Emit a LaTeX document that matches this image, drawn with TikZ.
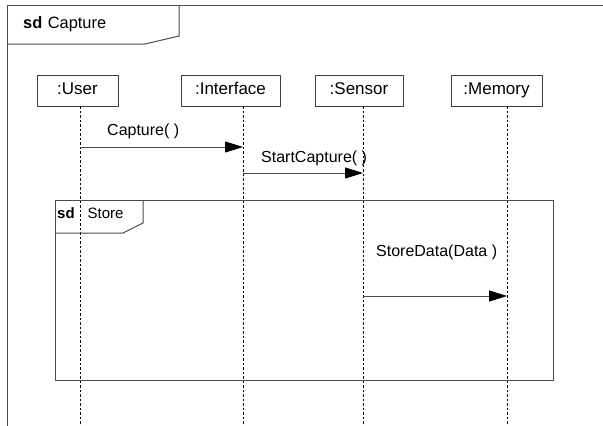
\documentclass[tikz,border=0pt]{standalone}
\usepackage{fontspec}
\setmainfont{Liberation Sans}
\usetikzlibrary{arrows.meta}

\begin{document}
\begin{tikzpicture}[x=1pt,y=-1pt,>={Triangle[length=18pt,width=11pt,color=black]},font=\fontsize{16pt}{19pt}\selectfont]
  \tikzstyle{head}=[draw=black!75,line width=0.9pt,minimum height=31pt,inner sep=0pt,text height=12pt,text depth=3.5pt,font=\fontsize{17pt}{20pt}\selectfont]
  \tikzstyle{life}=[black,line width=0.8pt,dash pattern=on 2.5pt off 2pt]
  \tikzstyle{msg}=[->,draw=black!70,line width=0.9pt]
  \tikzstyle{frame}=[draw=black!70,line width=1pt]
  \tikzstyle{lbl}=[anchor=base west,inner sep=0pt]

  \useasboundingbox (0,0) rectangle (603,426);

  \node[head,minimum width=81pt] (user)   at (77.5,90.5)  {:User};
  \node[head,minimum width=99pt] (iface)  at (230.5,90.5) {:Interface};
  \node[head,minimum width=88pt] (sensor) at (359,90.5)   {:Sensor};
  \node[head,minimum width=91pt] (memory) at (496.5,90.5) {:Memory};

  \foreach \n/\x in {user/80,iface/243,sensor/363,memory/507}{
    \coordinate (\n-top) at (\x,106);
    \coordinate (\n-end) at (\x,426);
    \draw[life] (\n-top) -- (\n-end);
  }

  \draw[frame] (7,426) -- (7,5) -- (603,5);
  \draw[frame] (179,5) -- (179,36) -- (145,44) -- (7,44);
  \node[lbl,font=\fontsize{16.4pt}{19pt}\selectfont] (capturetitle) at (23,28) {\textbf{sd}\hspace{5.5pt}Capture};

  \draw[frame] (55,200) rectangle (553,380);
  \draw[frame] (143,200) -- (143,223) -- (123,233) -- (55,233);
  \node[lbl,font=\fontsize{15pt}{18pt}\selectfont] (storetitle) at (57,218.5) {\textbf{sd}\hspace{13pt}Store};

  \coordinate (m1) at (0,147);
  \coordinate (m2) at (0,173);
  \coordinate (m3) at (0,296);

  \draw[msg] (user-top |- m1) -- (iface-top |- m1);
  \node[lbl] (capture) at (107,135) {Capture( )};
  \draw[msg] (iface-top |- m2) -- (sensor-top |- m2);
  \node[lbl] (startcapture) at (261,162) {StartCapture( )};
  \draw[msg] (sensor-top |- m3) -- (memory-top |- m3);
  \node[lbl] (storedata) at (376,256.5) {StoreData(Data )};
\end{tikzpicture}
\end{document}
